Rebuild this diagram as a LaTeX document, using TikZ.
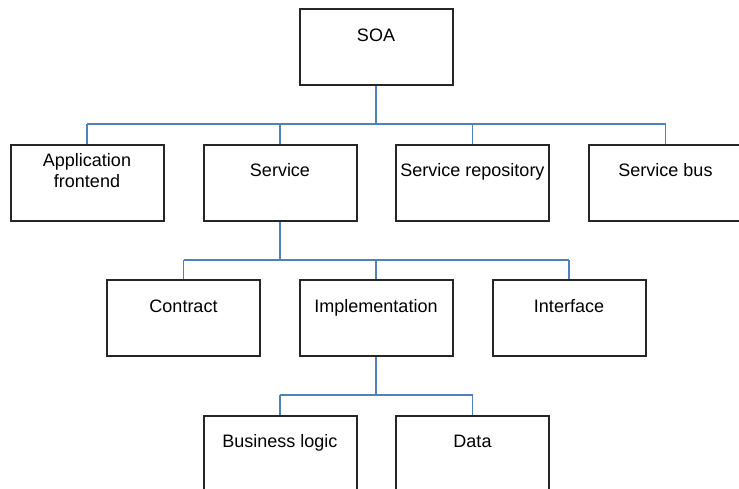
\documentclass[tikz,border=0pt]{standalone}
\usepackage{fontspec}
\setmainfont{Liberation Sans}
\definecolor{connblue}{RGB}{79,129,189}
\begin{document}
\begin{tikzpicture}[x=1pt,y=-1pt,
  box/.style={draw=black!85, line width=2pt, minimum width=153pt, minimum height=76pt, inner sep=0pt},
  txt/.style={font=\fontsize{18}{21}\selectfont, anchor=base, inner sep=0pt, align=center},
  conn/.style={draw=connblue, line width=1.9pt}]
\useasboundingbox (0,0) rectangle (739,489);
% row 1
\node[box] (soa) at (376,47.5) {};
% row 2
\node[box] (app) at (87,183) {};
\node[box] (svc) at (280,183) {};
\node[box] (rep) at (472.5,183) {};
\node[box] (bus) at (665.5,183) {};
% row 3
\node[box] (con) at (183.5,318) {};
\node[box] (imp) at (376,318) {};
\node[box] (int) at (569,318) {};
% row 4
\node[box] (biz) at (280,453.5) {};
\node[box] (dat) at (472.5,453.5) {};
% labels
\node[txt] (soa-t) at ([yshift=-33pt]soa.north) {SOA};
\node[txt] (app-t) at ([yshift=-44pt]app.north) {Application\\frontend};
\node[txt] (svc-t) at ([yshift=-33pt]svc.north) {Service};
\node[txt] (rep-t) at ([yshift=-33pt]rep.north) {Service repository};
\node[txt] (bus-t) at ([yshift=-33pt]bus.north) {Service bus};
\node[txt] (con-t) at ([yshift=-33pt]con.north) {Contract};
\node[txt] (imp-t) at ([yshift=-33pt]imp.north) {Implementation};
\node[txt] (int-t) at ([yshift=-33pt]int.north) {Interface};
\node[txt] (biz-t) at ([yshift=-33pt]biz.north) {Business logic};
\node[txt] (dat-t) at ([yshift=-33pt]dat.north) {Data};
% bus lines
\coordinate (b1) at (0,124.3);
\coordinate (b2) at (0,260);
\coordinate (b3) at (0,395);
\draw[conn] (soa.south) -- (soa.south |- b1);
\draw[conn] (app.north |- b1) -- (bus.north |- b1);
\foreach \n in {app,svc,rep,bus} \draw[conn] (\n.north) -- (\n.north |- b1);
\draw[conn] (svc.south) -- (svc.south |- b2);
\draw[conn] (con.north |- b2) -- (int.north |- b2);
\foreach \n in {con,imp,int} \draw[conn] (\n.north) -- (\n.north |- b2);
\draw[conn] (imp.south) -- (imp.south |- b3);
\draw[conn] (biz.north |- b3) -- (dat.north |- b3);
\foreach \n in {biz,dat} \draw[conn] (\n.north) -- (\n.north |- b3);
\end{tikzpicture}
\end{document}
